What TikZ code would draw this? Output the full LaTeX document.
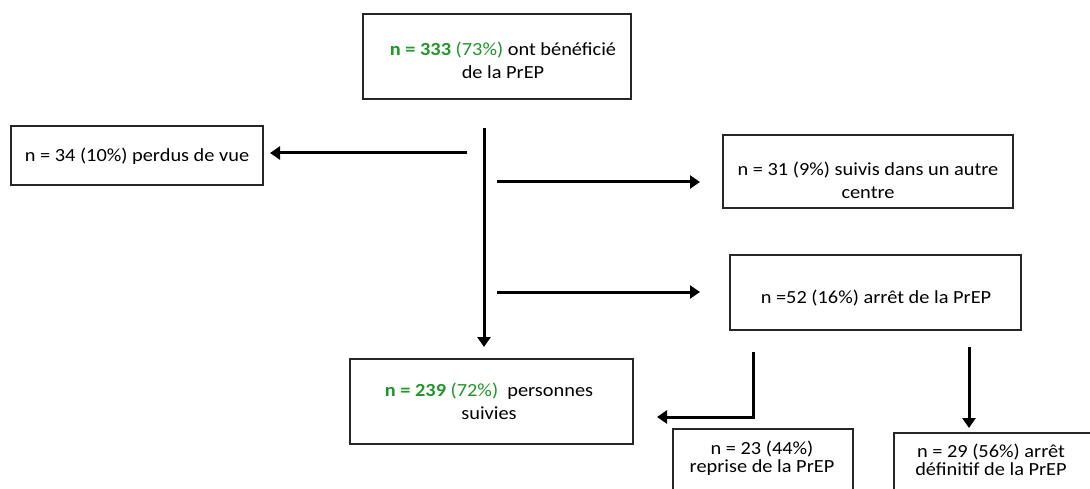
\documentclass[tikz,border=0pt]{standalone}
\usepackage{fontspec}
\setmainfont{Carlito}[FakeStretch=1.1]
\usetikzlibrary{arrows.meta}
\definecolor{grn}{RGB}{30,150,40}
\tikzset{
  box/.style={draw=black!85, line width=1.6pt, rectangle, inner sep=0pt},
  txt/.style={align=center, inner sep=0pt, font=\fontsize{18.5}{23}\selectfont},
  txts/.style={align=center, inner sep=0pt, font=\fontsize{18.5}{18.5}\selectfont},
  conn/.style={line width=3pt, -{Triangle[length=10pt,width=13pt]}},
  plainline/.style={line width=3pt}
}
\begin{document}
\begin{tikzpicture}[x=1pt,y=-1pt]
\useasboundingbox (0,0) rectangle (1090,489);
\clip (0,0) rectangle (1090,489);
\fill[white] (0,0) rectangle (1090,489);
% boxes
\node[box, minimum width=268pt, minimum height=85pt] (top) at (497,56.5) {};
\node[box, minimum width=252pt, minimum height=59pt] (lost) at (137,155.5) {};
\node[box, minimum width=290pt, minimum height=73pt] (other) at (868,171.5) {};
\node[box, minimum width=291pt, minimum height=75pt] (stop) at (875.5,292.5) {};
\node[box, minimum width=283pt, minimum height=85pt] (follow) at (491.5,401.5) {};
\node[box, anchor=north west, minimum width=180pt, minimum height=90pt] (resume) at (672,428) {};
\node[box, anchor=north west, minimum width=210pt, minimum height=90pt] (final) at (893,432) {};
% texts
\node[txt] (toptext) at (503,60) {\textcolor{grn}{\textbf{n = 333} (73\%)} ont bénéficié\\de la PrEP};
\node[txt] (losttext) at (137,156) {n = 34 (10\%) perdus de vue};
\node[txt] (othertext) at (868,180) {n = 31 (9\%) suivis dans un autre\\centre};
\node[txt] (stoptext) at (876,298) {n =52 (16\%) arrêt de la PrEP};
\node[txt] (followtext) at (489,401) {\textcolor{grn}{\textbf{n = 239} (72\%)}\ \ personnes\\suivies};
\node[txts] (resumetext) at (762,458) {n = 23 (44\%)\\reprise de la PrEP};
\node[txts] (finaltext) at (991,460) {n = 29 (56\%) arrêt\\définitif de la PrEP};
% connector points
\coordinate (vA) at (484,128);
\coordinate (vB) at (484,347);
\coordinate (lA) at (467,153);
\coordinate (lB) at (270,153);
\coordinate (r1A) at (497,182);
\coordinate (r1B) at (700,182);
\coordinate (r2A) at (497,292);
\coordinate (r2B) at (700,292);
\coordinate (eA) at (753,352);
\coordinate (eM) at (753,417);
\coordinate (eB) at (657,417);
\coordinate (dA) at (969,347);
\coordinate (dB) at (969,428);
% connectors
\draw[conn] (vA) -- (vB);
\draw[conn] (lA) -- (lB);
\draw[conn] (r1A) -- (r1B);
\draw[conn] (r2A) -- (r2B);
\draw[conn] (eA) -- (eM) -- (eB);
\draw[conn] (dA) -- (dB);
\end{tikzpicture}
\end{document}
